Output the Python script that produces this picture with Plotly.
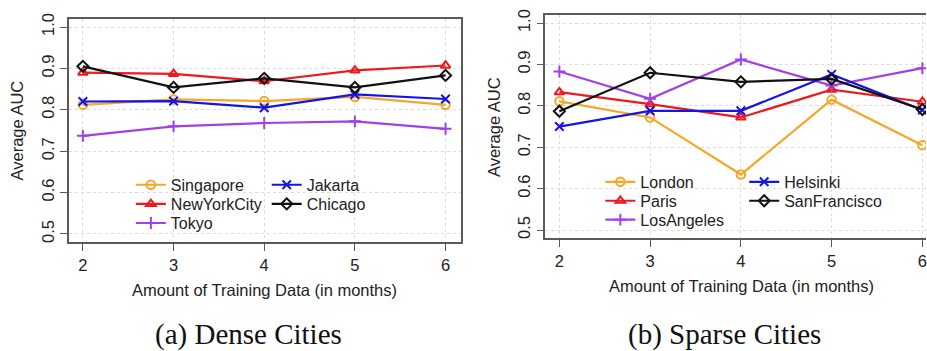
import plotly.graph_objects as go

W, H = 927, 351

months = [2, 3, 4, 5, 6]

# Dense cities
singapore = [0.812, 0.825, 0.821, 0.831, 0.812]
new_york_city = [0.890, 0.887, 0.869, 0.895, 0.907]
tokyo = [0.737, 0.760, 0.768, 0.772, 0.754]
jakarta = [0.820, 0.821, 0.805, 0.837, 0.826]
chicago = [0.905, 0.854, 0.876, 0.854, 0.883]

# Sparse cities
london = [0.811, 0.772, 0.634, 0.815, 0.705]
paris = [0.833, 0.804, 0.772, 0.839, 0.810]
los_angeles = [0.883, 0.817, 0.912, 0.849, 0.891]
helsinki = [0.750, 0.788, 0.788, 0.876, 0.790]
san_francisco = [0.787, 0.880, 0.858, 0.865, 0.791]

y_ticks = [0.5, 0.6, 0.7, 0.8, 0.9, 1.0]
x_label = "Amount of Training Data (in months)"
y_label = "Average AUC"
captions = ["(a) Dense Cities", "(b) Sparse Cities"]

ORANGE = "#F5A728"
RED = "#EC1A1E"
PURPLE = "#A040E6"
BLUE = "#1414E6"
BLACK = "#111111"

SANS = "Liberation Sans, Arial, sans-serif"
SERIF = "Liberation Serif, Times New Roman, serif"

# (name, values, colour, marker symbol, legend column, legend row)
dense = [
    ("Singapore", singapore, ORANGE, "circle-open", 0, 0),
    ("NewYorkCity", new_york_city, RED, "triangle-up-open", 0, 1),
    ("Tokyo", tokyo, PURPLE, "cross-thin-open", 0, 2),
    ("Jakarta", jakarta, BLUE, "x-thin-open", 1, 0),
    ("Chicago", chicago, BLACK, "diamond-open", 1, 1),
]
sparse = [
    ("London", london, ORANGE, "circle-open", 0, 0),
    ("Paris", paris, RED, "triangle-up-open", 0, 1),
    ("LosAngeles", los_angeles, PURPLE, "cross-thin-open", 0, 2),
    ("Helsinki", helsinki, BLUE, "x-thin-open", 1, 0),
    ("SanFrancisco", san_francisco, BLACK, "diamond-open", 1, 1),
]

# Panel frames in pixels: left, right, top, bottom
panels = [
    dict(l=69, r=461, t=13, b=241, xr=[1.846, 6.165]),
    dict(l=546, r=927, t=9, b=237, xr=[1.846, 6.04]),
]
# legend anchor pixels per panel: column x positions, first row y, row step
legend_pos = [
    dict(cols=[131, 267], y0=182.5, dy=19.5),
    dict(cols=[601, 745], y0=179.5, dy=19.3),
]

fig = go.Figure()
layout = dict(
    width=W, height=H,
    margin=dict(l=0, r=0, t=0, b=0),
    paper_bgcolor="white", plot_bgcolor="white",
    showlegend=True,
    font=dict(family=SANS, size=16.5, color="#222"),
    annotations=[],
)

legend_idx = 0
for p, (series, pan, lp) in enumerate(zip([dense, sparse], panels, legend_pos)):
    ax = "" if p == 0 else str(p + 1)
    for name, vals, col, sym, c, r in series:
        legend_idx += 1
        lname = "legend" if legend_idx == 1 else f"legend{legend_idx}"
        fig.add_trace(go.Scatter(
            x=months, y=vals, name=name, mode="lines+markers",
            xaxis="x" + ax, yaxis="y" + ax, legend=lname,
            line=dict(color=col, width=2.2),
            marker=dict(symbol=sym, size=8.5, color=col, line=dict(color=col, width=2)),
        ))
        layout[lname] = dict(
            x=lp["cols"][c] / W, y=1 - (lp["y0"] + r * lp["dy"]) / H,
            xanchor="left", yanchor="middle",
            bgcolor="rgba(0,0,0,0)", borderwidth=0,
            font=dict(family=SANS, size=16, color="#222"),
            itemwidth=30,
        )

    xdom = [pan["l"] / W, pan["r"] / W]
    ydom = [1 - pan["b"] / H, 1 - pan["t"] / H]
    axis_common = dict(
        showline=True, linecolor="#5a5a5a", linewidth=1.5,
        ticks="outside", ticklen=7, tickwidth=1, tickcolor="#5a5a5a",
        showgrid=True, gridcolor="#dcdcdc", griddash="dot", gridwidth=1,
        zeroline=False, ticklabeloverflow="allow",
        tickfont=dict(family=SANS, size=16.5, color="#222"),
    )
    layout["xaxis" + ax] = dict(
        axis_common, domain=xdom, range=pan["xr"], anchor="y" + ax,
        tickvals=months, mirror=True,
    )
    layout["yaxis" + ax] = dict(
        axis_common, domain=ydom, range=[0.48, 1.02], anchor="x" + ax,
        tickvals=y_ticks, ticktext=[f"{v:.1f}" for v in y_ticks],
        tickangle=-90, mirror=(p == 0),
    )

    cx = (pan["l"] + (pan["r"] if p == 0 else 938)) / 2
    layout["annotations"].append(dict(
        text=x_label, xref="paper", yref="paper",
        x=cx / W, y=1 - (pan["b"] + 49) / H, showarrow=False,
        xanchor="center", yanchor="middle",
        font=dict(family=SANS, size=16.5, color="#222"),
    ))
    layout["annotations"].append(dict(
        text=y_label, xref="paper", yref="paper",
        x=(pan["l"] - 52) / W, y=1 - (pan["t"] + pan["b"]) / 2 / H,
        showarrow=False, textangle=-90,
        xanchor="center", yanchor="middle",
        font=dict(family=SANS, size=16.5, color="#222"),
    ))

for cap, cx in zip(captions, [249, 725]):
    layout["annotations"].append(dict(
        text=cap, xref="paper", yref="paper",
        x=cx / W, y=1 - 335 / H, showarrow=False,
        xanchor="center", yanchor="middle",
        font=dict(family=SERIF, size=29, color="#111"),
    ))

fig.update_layout(**layout)
fig.write_html("out.html")
